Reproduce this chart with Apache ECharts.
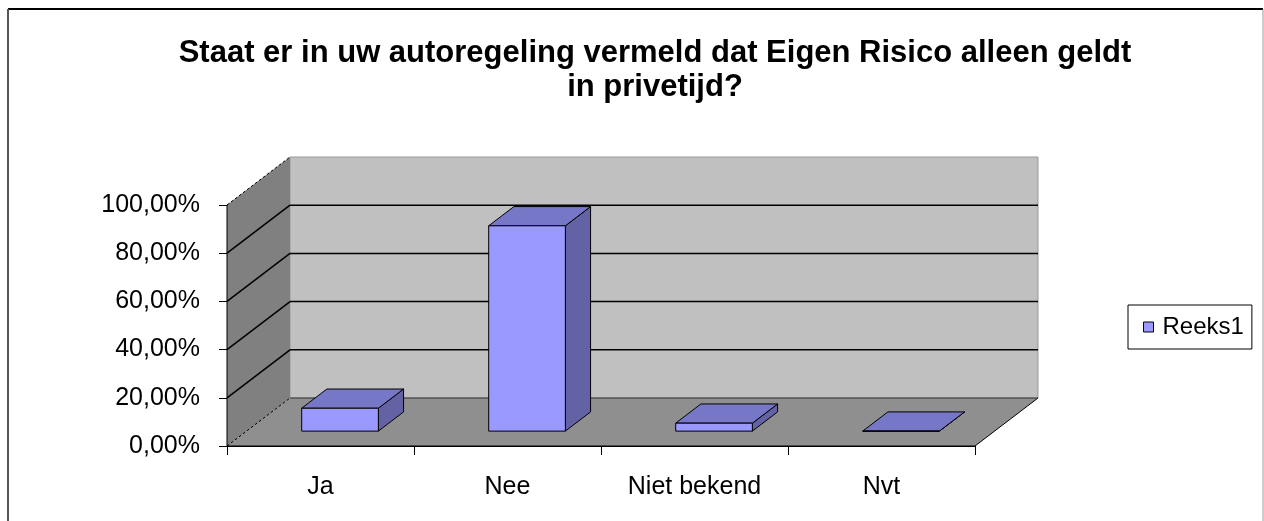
<!DOCTYPE html>
<html>
<head>
  <meta charset="UTF-8">
  <title>Eigen Risico</title>
  <script src="https://cdn.jsdelivr.net/npm/echarts@6/dist/echarts.min.js"></script>
  <style>
    body { margin: 0; background: #fff; }
    #main { width: 1264px; height: 521px; }
  </style>
</head>
<body>
<div id="main"></div>
<script type="text/javascript">
  // data
  var categories = ['Ja', 'Nee', 'Niet bekend', 'Nvt'];
  var values = [9.5, 85.2, 3.3, 0];
  var yTicks = [0, 20, 40, 60, 80, 100];
  var seriesName = 'Reeks1';

  var FONT = '"Liberation Sans", Arial, sans-serif';
  // oblique depth of the 3d box (pixels)
  var DX = 63, DY = -48;

  var myChart = echarts.init(document.getElementById('main'));

  function wallsItem(params, api) {
    var n = categories.length;
    var bw = api.size([1, 0])[0];
    var xl = api.coord([0, 0])[0] - bw / 2;
    var xr = api.coord([n - 1, 0])[0] + bw / 2;
    var y0 = api.coord([0, yTicks[0]])[1];
    var yTop = api.coord([0, yTicks[yTicks.length - 1]])[1];
    var kids = [];
    // back wall
    kids.push({ type: 'polygon', shape: { points: [[xl + DX, yTop + DY], [xr + DX, yTop + DY], [xr + DX, y0 + DY], [xl + DX, y0 + DY]] },
      style: { fill: '#c0c0c0', stroke: '#999', lineWidth: 1 } });
    // side wall
    kids.push({ type: 'polygon', shape: { points: [[xl, y0], [xl, yTop], [xl + DX, yTop + DY], [xl + DX, y0 + DY]] },
      style: { fill: '#808080', stroke: null } });
    // floor
    kids.push({ type: 'polygon', shape: { points: [[xl, y0], [xr, y0], [xr + DX, y0 + DY], [xl + DX, y0 + DY]] },
      style: { fill: '#8f8f8f', stroke: null } });
    kids.push({ type: 'line', shape: { x1: xr, y1: y0, x2: xr + DX, y2: y0 + DY }, style: { stroke: '#000', lineWidth: 1 } });
    kids.push({ type: 'line', shape: { x1: xl + DX, y1: y0 + DY, x2: xr + DX, y2: y0 + DY }, style: { stroke: '#333', lineWidth: 1 } });
    // grid lines on walls
    yTicks.forEach(function (t, i) {
      var y = api.coord([0, t])[1];
      var edge = (i === 0 || i === yTicks.length - 1);
      kids.push({ type: 'line', shape: { x1: xl, y1: y, x2: xl + DX, y2: y + DY },
        style: { stroke: '#000', lineWidth: edge ? 1 : 1.5, lineDash: edge ? [3, 2] : null } });
      if (!edge) {
        kids.push({ type: 'line', shape: { x1: xl + DX, y1: y + DY, x2: xr + DX, y2: y + DY },
          style: { stroke: '#000', lineWidth: 1.5 } });
      }
    });
    kids.push({ type: 'line', shape: { x1: xl, y1: y0, x2: xr, y2: y0 }, style: { stroke: '#000', lineWidth: 1 } });
    kids.push({ type: 'line', shape: { x1: xl, y1: y0, x2: xl, y2: yTop }, style: { stroke: '#000', lineWidth: 1 } });
    return { type: 'group', children: kids };
  }

  function barItem(params, api) {
    var c = api.coord([api.value(0), api.value(1)]);
    var b = api.coord([api.value(0), 0]);
    var w = api.size([1, 0])[0] * 0.41;
    var fx = DX * 0.31, fy = DY * 0.31;
    var bx = DX * 0.40, by = DY * 0.40;
    var x0 = c[0] - w / 2 + fx, x1 = x0 + w;
    var yt = c[1] + fy, yb = b[1] + fy;
    var st = { stroke: '#000', lineWidth: 1, lineJoin: 'round' };
    return {
      type: 'group',
      children: [
        { type: 'polygon', shape: { points: [[x1, yt], [x1 + bx, yt + by], [x1 + bx, yb + by], [x1, yb]] },
          style: Object.assign({ fill: '#6262a4' }, st) },
        { type: 'polygon', shape: { points: [[x0, yt], [x1, yt], [x1 + bx, yt + by], [x0 + bx, yt + by]] },
          style: Object.assign({ fill: '#7777c8' }, st) },
        { type: 'polygon', shape: { points: [[x0, yt], [x1, yt], [x1, yb], [x0, yb]] },
          style: Object.assign({ fill: '#9999ff' }, st) }
      ]
    };
  }

  var option = {
    backgroundColor: '#fff',
    animation: false,
    textStyle: { fontFamily: FONT },
    title: {
      text: 'Staat er in uw autoregeling vermeld dat Eigen Risico alleen geldt\nin privetijd?',
      left: 650,
      top: 31,
      textAlign: 'center',
      textStyle: { fontFamily: FONT, fontSize: 31, fontWeight: 'bold', color: '#000', lineHeight: 34 }
    },
    legend: {
      data: [seriesName],
      left: 1128,
      top: 305,
      icon: 'rect',
      itemWidth: 10,
      itemHeight: 10,
      padding: [10, 8, 10, 15],
      borderColor: '#000',
      borderWidth: 1,
      itemStyle: { borderColor: '#000', borderWidth: 1 },
      textStyle: { fontFamily: FONT, fontSize: 24, color: '#000', padding: [0, 0, 0, 4] }
    },
    grid: { left: 227, right: 289, top: 205, bottom: 75, containLabel: false },
    xAxis: {
      type: 'category',
      data: categories,
      axisLine: { lineStyle: { color: '#000', width: 1 } },
      axisTick: { show: true, length: 9, lineStyle: { color: '#000' } },
      axisLabel: { fontFamily: FONT, fontSize: 25, color: '#000', margin: 29 },
      splitLine: { show: false }
    },
    yAxis: {
      type: 'value',
      min: 0,
      max: 100,
      interval: 20,
      axisLine: { show: true, lineStyle: { color: '#000', width: 1 } },
      axisTick: { show: true, length: 8, lineStyle: { color: '#000' } },
      axisLabel: {
        fontFamily: FONT, fontSize: 25, color: '#000', margin: 27,
        formatter: function (v) { return v + ',00%'; }
      },
      splitLine: { show: false }
    },
    graphic: [
      { type: 'line', shape: { x1: 8, y1: 9, x2: 1263, y2: 9 }, style: { stroke: '#000', lineWidth: 2 }, silent: true },
      { type: 'line', shape: { x1: 8, y1: 9, x2: 8, y2: 521 }, style: { stroke: '#555', lineWidth: 2 }, silent: true },
      { type: 'line', shape: { x1: 1263, y1: 9, x2: 1263, y2: 521 }, style: { stroke: '#999', lineWidth: 1 }, silent: true }
    ],
    series: [
      {
        name: 'walls',
        type: 'custom',
        clip: false,
        silent: true,
        renderItem: wallsItem,
        data: [[0, 0]],
        z: 1
      },
      {
        name: seriesName,
        type: 'custom',
        clip: false,
        renderItem: barItem,
        itemStyle: { color: '#9999ff' },
        encode: { x: 0, y: 1 },
        data: values.map(function (v, i) { return [i, v]; }),
        z: 3
      }
    ]
  };

  myChart.setOption(option);
</script>
</body>
</html>
